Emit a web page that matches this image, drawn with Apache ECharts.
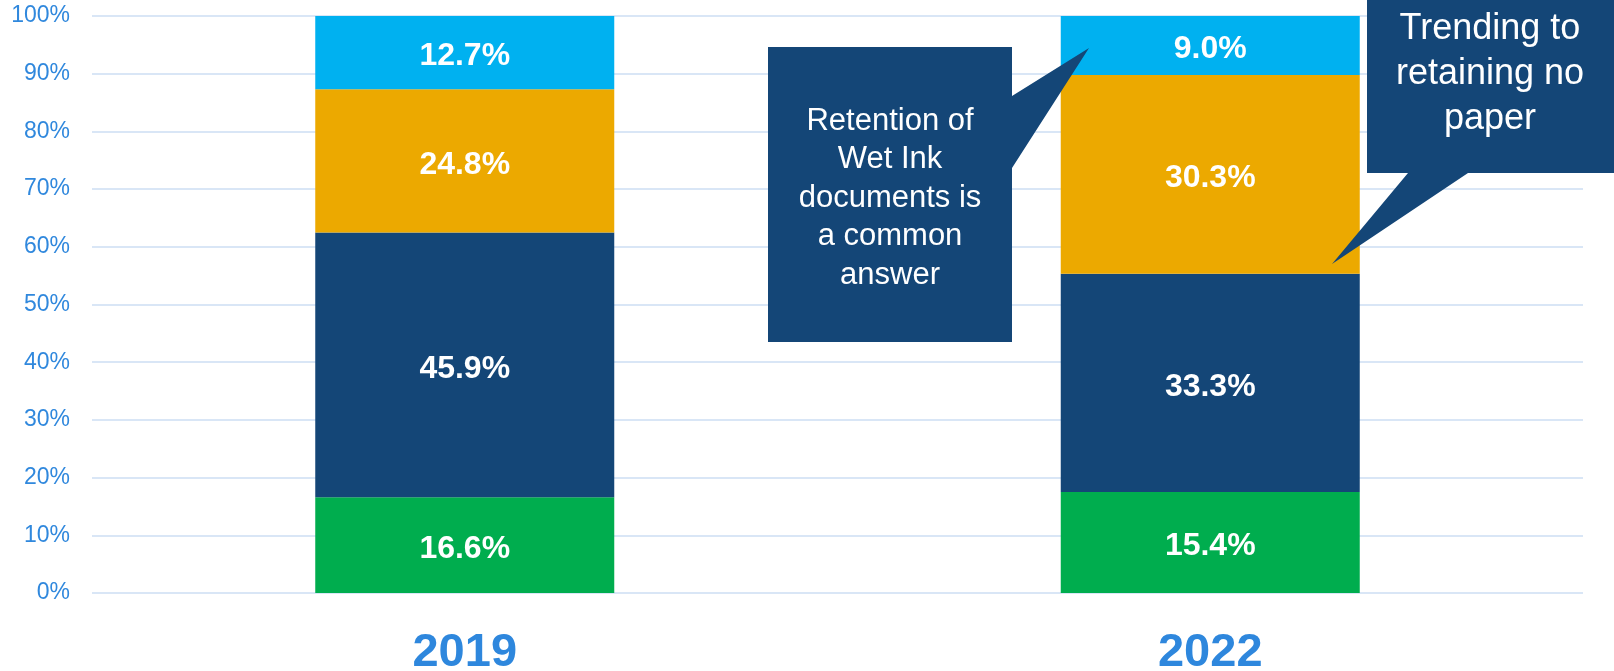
<!DOCTYPE html>
<html>
<head>
<meta charset="utf-8">
<title>Paper retention 2019 vs 2022</title>
<script src="https://cdn.jsdelivr.net/npm/echarts@6/dist/echarts.min.js"></script>
<style>
  html, body { margin: 0; padding: 0; background: #ffffff; }
  #chart { width: 1614px; height: 671px; }
</style>
</head>
<body>
<div id="chart"></div>
<script>
// Survey years
const years = ['2019', '2022'];

// Response shares per year (percent), bottom to top of each stack
const greenShare = [16.6, 15.4];
const navyShare = [45.9, 33.3];
const goldShare = [24.8, 30.3];
const skyShare = [12.7, 9.0];

// Y axis ticks
const yTicks = [0, 10, 20, 30, 40, 50, 60, 70, 80, 90, 100];

const layers = [
  { name: 'Green', values: greenShare, color: '#00AD4E' },
  { name: 'Navy', values: navyShare, color: '#144677' },
  { name: 'Gold', values: goldShare, color: '#ECA900' },
  { name: 'Sky', values: skyShare, color: '#00B1F0' }
];

// Each column is drawn as a 100% stack: the segments are scaled to the column total
const totals = years.map((_, i) => layers.reduce((s, l) => s + l.values[i], 0));

const FONT = '"Liberation Sans", Arial, sans-serif';

const series = layers.map(l => ({
  name: l.name,
  type: 'bar',
  stack: 'share',
  barWidth: 299,
  itemStyle: { color: l.color },
  label: {
    show: true,
    position: 'inside',
    offset: [0, 4],
    color: '#ffffff',
    fontFamily: FONT,
    fontWeight: 'bold',
    fontSize: 32,
    formatter: p => l.values[p.dataIndex].toFixed(1) + '%'
  },
  data: l.values.map((v, i) => v / totals[i] * 100)
}));

const chart = echarts.init(document.getElementById('chart'), null, { renderer: 'canvas' });

chart.setOption({
  animation: false,
  backgroundColor: '#ffffff',
  grid: { left: 92, right: 31, top: 16, bottom: 78, containLabel: false, outerBoundsMode: 'none' },
  xAxis: {
    type: 'category',
    data: years,
    axisLine: { show: false },
    axisTick: { show: false },
    axisLabel: {
      color: '#2E87DD',
      fontFamily: FONT,
      fontWeight: 'bold',
      fontSize: 47,
      lineHeight: 47,
      margin: 37
    }
  },
  yAxis: {
    type: 'value',
    min: yTicks[0],
    max: yTicks[yTicks.length - 1],
    interval: yTicks[1] - yTicks[0],
    axisLine: { show: false },
    axisTick: { show: false },
    splitLine: { lineStyle: { color: '#D9E6F6', width: 2 } },
    axisLabel: {
      color: '#3088DD',
      fontFamily: FONT,
      fontSize: 23,
      margin: 22,
      formatter: '{value}%'
    }
  },
  series: series,
  graphic: [
    {
      type: 'polygon',
      z: 100,
      shape: {
        points: [[768, 47], [1012, 47], [1012, 96], [1089, 48], [1012, 168], [1012, 342], [768, 342]]
      },
      style: { fill: '#144677' }
    },
    {
      type: 'text',
      z: 101,
      x: 890,
      y: 198,
      style: {
        text: 'Retention of\nWet Ink\ndocuments is\na common\nanswer',
        fill: '#ffffff',
        font: '31px ' + FONT,
        lineHeight: 38.5,
        align: 'center',
        verticalAlign: 'middle'
      }
    },
    {
      type: 'polygon',
      z: 100,
      shape: {
        points: [[1367, 0], [1614, 0], [1614, 173], [1468, 173], [1332, 264], [1408, 173], [1367, 173]]
      },
      style: { fill: '#144677' }
    },
    {
      type: 'text',
      z: 101,
      x: 1490,
      y: 74,
      style: {
        text: 'Trending to\nretaining no\npaper',
        fill: '#ffffff',
        font: '36px ' + FONT,
        lineHeight: 45,
        align: 'center',
        verticalAlign: 'middle'
      }
    }
  ]
});
</script>
</body>
</html>
